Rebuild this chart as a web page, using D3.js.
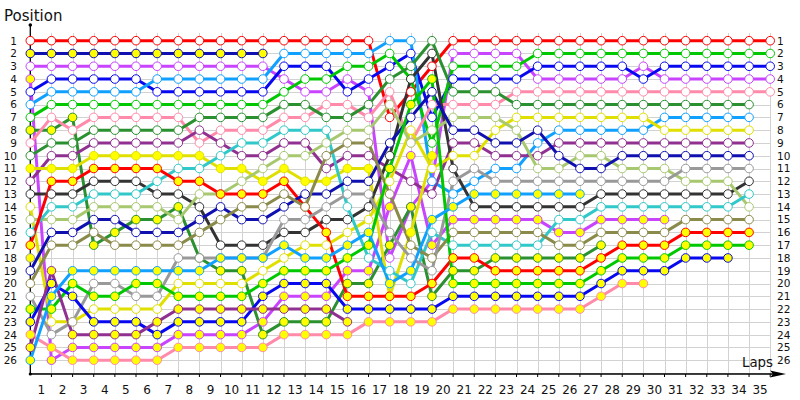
<!DOCTYPE html>
<html><head><meta charset="utf-8">
<script src="https://cdn.jsdelivr.net/npm/d3@7/dist/d3.min.js"></script>
<style>body{margin:0;background:#fff}svg{display:block}</style>
</head><body>
<svg id="chart" width="800" height="400"></svg>
<script>
const laps = d3.range(0, 36);
const lapLabels = d3.range(1, 36);
const positionLabels = d3.range(1, 27);

const driverNames = ["RW","NY","MW","MY","BW","LW","GW","DY","PW","DW","PuW","YY","BkW","YW","YgW","CW","RY","XY","NW","OW","GrW","GY","BY","PkY","PuY","LY"];
const driverColors = ["#ff0000","#1010b0","#c844ff","#c844ff","#0808f0","#10a0ff","#00c800","#2a9030","#ff8aaa","#2a9030","#903090","#e0e000","#333333","#e0e000","#a8c870","#30c8c8","#ff0000","#999999","#1010b0","#8a8a4a","#999999","#00c800","#0808f0","#ff8aaa","#903090","#10a0ff"];
const driverFills = ["#ffffff","#ffff00","#ffffff","#ffff00","#ffffff","#ffffff","#ffffff","#ffff00","#ffffff","#ffffff","#ffffff","#ffff00","#ffffff","#ffffff","#ffffff","#ffffff","#ffff00","#ffff00","#ffffff","#ffffff","#ffffff","#ffff00","#ffff00","#ffff00","#ffff00","#ffff00"];

const _ = null;
const RW  = [1,1,1,1,1,1,1,1,1,1,1,1,1,1,1,1,1,7,5,3,1,1,1,1,1,1,1,1,1,1,1,1,1,1,1,1];
const NY  = [2,2,2,2,2,2,2,2,2,2,2,2,_,_,_,_,_,_,_,_,_,_,_,_,_,_,_,_,_,_,_,_,_,_,_,_];
const MW  = [3,3,3,3,3,3,3,3,3,3,3,3,4,5,5,4,5,18,14,12,2,2,2,2,4,4,4,4,4,3,4,4,4,4,4,4];
const MY  = [4,26,25,25,25,25,25,24,24,24,24,23,21,21,21,19,19,14,10,17,15,15,15,15,15,16,16,15,15,15,15,_,_,_,_,_];
const BW  = [5,4,4,4,4,4,5,5,5,5,5,5,3,3,3,5,4,3,2,7,4,4,4,4,3,3,3,3,3,4,3,3,3,3,3,3];
const LW  = [6,5,5,5,5,5,4,4,4,4,4,4,2,2,2,2,2,1,1,12,13,12,11,11,9,8,8,8,8,8,7,7,7,7,7,_];
const GW  = [7,6,6,6,6,6,6,6,6,6,6,6,5,4,4,3,3,2,4,9,3,3,3,3,2,2,2,2,2,2,2,2,2,2,2,2];
const DY  = [8,8,7,17,16,15,15,14,18,19,19,24,23,23,23,20,20,17,14,21,19,19,18,18,18,18,18,17,_,_,_,_,_,_,_,_];
const PW  = [9,7,8,7,7,7,7,7,9,8,8,8,7,7,6,6,7,5,9,6,6,6,6,5,5,5,5,5,5,5,5,5,5,5,5,5];
const DW  = [10,9,9,8,8,8,8,8,7,7,7,7,6,6,7,7,6,4,3,1,5,5,5,6,6,6,6,6,6,6,6,6,6,6,6,_];
const PuW = [12,10,10,9,9,9,9,9,8,9,10,10,9,9,11,10,10,11,12,13,9,9,10,10,10,9,9,9,9,9,9,9,9,9,9,_];
const YY  = [11,11,11,10,10,10,10,10,10,11,11,12,11,12,12,11,11,21,16,10,_,_,_,_,_,_,_,_,_,_,_,_,_,_,_,_];
const BkW = [13,13,13,12,12,12,13,13,14,17,17,17,16,16,15,15,14,10,4,2,11,14,14,14,14,14,14,13,13,13,13,13,13,13,12,_];
const YW  = [14,23,23,22,22,22,22,20,20,20,20,19,18,17,17,16,15,12,8,11,10,10,8,7,7,7,7,7,7,7,8,8,8,8,8,_];
const YgW = [15,15,15,14,14,14,14,15,13,13,12,11,10,10,9,8,8,6,9,8,7,7,7,8,11,11,10,10,11,11,11,12,12,12,14,_];
const CW  = [16,14,14,13,13,13,12,11,11,10,9,9,8,8,8,14,18,19,20,16,17,17,17,17,17,15,15,14,14,14,14,14,14,14,13,_];
const RY  = [17,12,12,11,11,11,11,12,12,13,13,13,12,14,16,21,21,21,21,20,18,18,19,19,19,19,19,18,17,17,17,16,16,16,16,_];
const XY  = [18,_,_,_,_,_,_,_,_,_,_,_,_,_,_,_,_,_,_,_,_,_,_,_,_,_,_,_,_,_,_,_,_,_,_,_];
const NW  = [19,16,16,15,15,16,16,16,15,14,15,15,14,13,13,12,12,9,7,5,8,8,9,9,8,10,11,11,10,10,10,10,10,10,10,_];
const OW  = [20,17,17,16,17,17,17,17,16,15,14,14,13,14,10,9,9,13,17,18,16,16,16,16,16,17,17,16,16,16,16,15,15,15,15,_];
const GrW = [21,24,23,20,20,21,21,18,18,18,18,18,15,15,14,13,13,16,18,19,12,11,12,12,12,12,12,12,12,12,12,11,11,11,11,_];
const GY  = [22,22,20,21,21,20,20,21,21,21,21,20,19,19,19,18,17,11,6,4,20,20,20,20,20,20,20,19,18,18,18,17,17,17,17,_];
const BY  = [23,20,21,23,23,23,24,23,23,23,23,21,20,20,20,22,22,22,22,22,21,21,21,21,21,21,21,20,19,19,19,18,18,18,_,_];
const PkY = [24,25,26,26,26,26,26,25,25,25,25,25,24,24,24,24,23,23,23,23,22,22,22,22,22,22,22,21,20,20,_,_,_,_,_,_];
const PuY = [25,19,24,24,24,24,23,22,22,22,22,22,22,22,22,23,_,_,_,_,_,_,_,_,_,_,_,_,_,_,_,_,_,_,_,_];
const LY  = [26,21,19,19,19,19,19,19,19,18,18,18,17,18,18,17,16,20,19,15,14,13,13,13,13,13,13,_,_,_,_,_,_,_,_,_];

const driverPositions = [RW,NY,MW,MY,BW,LW,GW,DY,PW,DW,PuW,YY,BkW,YW,YgW,CW,RY,XY,NW,OW,GrW,GY,BY,PkY,PuY,LY];

const svg = d3.select("#chart");
const x = d3.scaleLinear().domain([0, 35]).range([30.3, 770.2]);
const y = d3.scaleLinear().domain([1, 26]).range([40.7, 360.2]);
const axisBottomY = 374;
const gridTop = 33;

const grid = svg.append("g").attr("stroke", "#d2d2d2").attr("stroke-width", 1).attr("shape-rendering", "crispEdges");
grid.selectAll("line.v").data(laps.slice(1)).join("line")
  .attr("x1", d => Math.round(x(d)) + 0.5).attr("x2", d => Math.round(x(d)) + 0.5)
  .attr("y1", gridTop).attr("y2", axisBottomY);
grid.selectAll("line.h").data(d3.range(1, 28)).join("line")
  .attr("x1", x(0)).attr("x2", x(35))
  .attr("y1", d => Math.round(y(d)) + 0.5).attr("y2", d => Math.round(y(d)) + 0.5);

// axes
const axG = svg.append("g");
axG.append("line").attr("x1", x(0)).attr("x2", x(0)).attr("y1", 25).attr("y2", axisBottomY).attr("stroke", "#000").attr("stroke-width", 1.3);
axG.append("circle").attr("cx", x(0)).attr("cy", 25).attr("r", 1.8).attr("fill", "#000");
axG.append("line").attr("x1", x(0)).attr("x2", 778).attr("y1", axisBottomY).attr("y2", axisBottomY).attr("stroke", "#000").attr("stroke-width", 1.3);
axG.append("path").attr("d", `M786,${axisBottomY} L770,${axisBottomY-3.5} L773,${axisBottomY} L770,${axisBottomY+3.5} Z`).attr("fill", "#000");
axG.append("circle").attr("cx", x(0)).attr("cy", axisBottomY).attr("r", 1.6).attr("fill", "#000");
axG.selectAll("line.tk").data(laps.slice(1)).join("line")
  .attr("x1", d => x(d)).attr("x2", d => x(d)).attr("y1", axisBottomY).attr("y2", axisBottomY + 3)
  .attr("stroke", "#000").attr("stroke-width", 1);

const xAxis = d3.axisBottom(x).tickValues(lapLabels.map(l => l - 0.5)).tickFormat(d => d3.format("d")(d + 0.5)).tickSize(0);
const xg = svg.append("g").attr("transform", `translate(0,${axisBottomY + 6})`).call(xAxis);
xg.select(".domain").remove();
xg.selectAll("text").attr("font-family", "DejaVu Sans, sans-serif").attr("font-size", 12).attr("fill", "#111").attr("dy", "0.9em");

const yAxisL = d3.axisLeft(y).tickValues(positionLabels).tickSize(0).tickPadding(0);
const ygl = svg.append("g").attr("transform", "translate(17,0)").call(yAxisL);
ygl.select(".domain").remove();
ygl.selectAll("text").attr("font-family", "DejaVu Sans, sans-serif").attr("font-size", 10.5).attr("fill", "#111");
const yAxisR = d3.axisRight(y).tickValues(positionLabels).tickSize(0).tickPadding(0);
const ygr = svg.append("g").attr("transform", "translate(777,0)").call(yAxisR);
ygr.select(".domain").remove();
ygr.selectAll("text").attr("font-family", "DejaVu Sans, sans-serif").attr("font-size", 10.5).attr("fill", "#111");

svg.append("text").attr("x", 4).attr("y", 21).text("Position").attr("font-family", "DejaVu Sans, sans-serif").attr("font-size", 15).attr("fill", "#111");
svg.append("text").attr("x", 742).attr("y", 367).text("Laps").attr("font-family", "DejaVu Sans, sans-serif").attr("font-size", 14)
  .attr("textLength", 31).attr("lengthAdjust", "spacingAndGlyphs").attr("fill", "#111");

// series
const series = driverPositions.map((arr, i) => ({
  color: driverColors[i], fill: driverFills[i],
  pts: arr.map((p, lap) => ({lap, p})).filter(d => d.p !== null)
}));
const line = d3.line().x(d => x(d.lap)).y(d => y(d.p));
svg.append("g").selectAll("path").data(series).join("path")
  .attr("d", d => line(d.pts)).attr("fill", "none").attr("stroke", d => d.color)
  .attr("stroke-width", 3).attr("stroke-linejoin", "round");
const mg = svg.append("g");
series.forEach(s => {
  mg.append("g").selectAll("circle").data(s.pts).join("circle")
    .attr("cx", d => x(d.lap)).attr("cy", d => y(d.p)).attr("r", 4.3)
    .attr("fill", s.fill).attr("stroke", s.color).attr("stroke-width", 1);
});
</script>
</body></html>
